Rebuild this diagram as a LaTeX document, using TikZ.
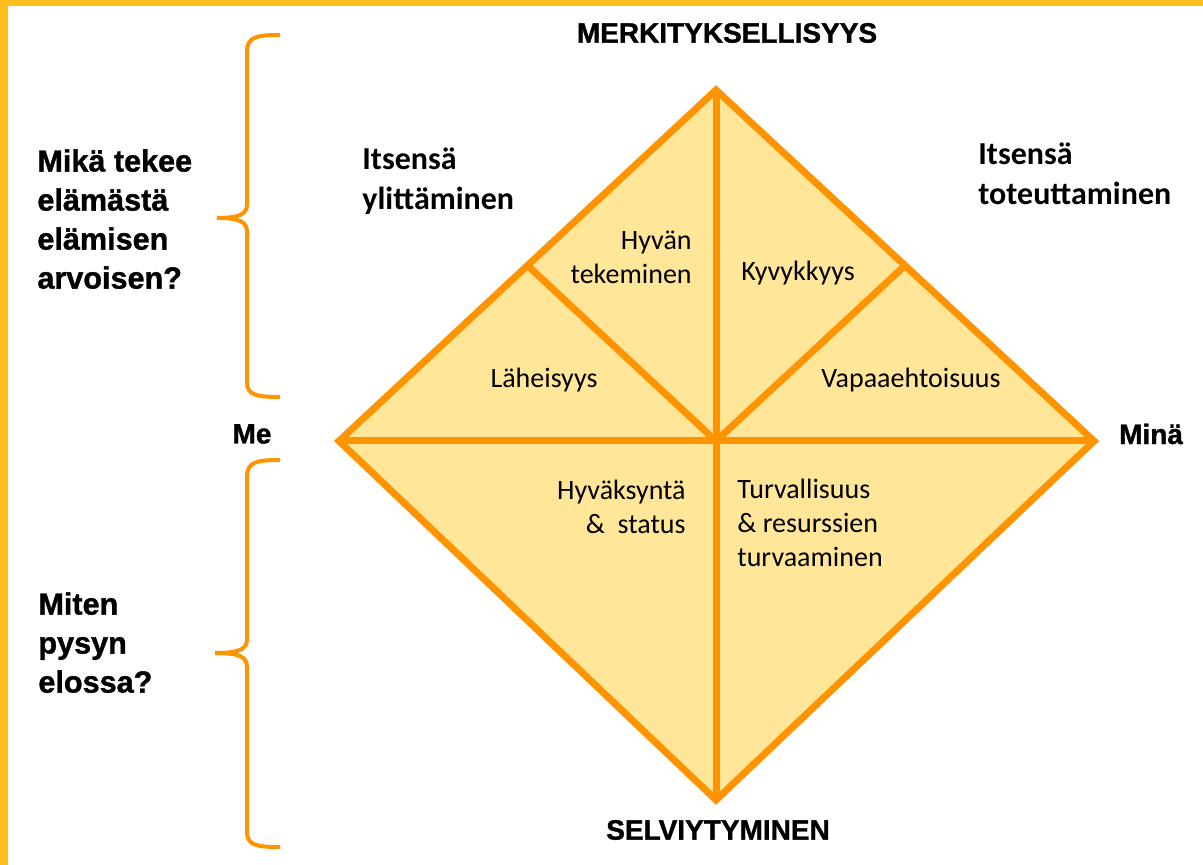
\documentclass[tikz,border=0pt]{standalone}
\usepackage{fontspec}
\setmainfont{Carlito}
\newfontfamily\headfont[BoldFeatures={FakeBold=1.2}]{Liberation Sans}
\definecolor{goldframe}{HTML}{FDBE1E}
\definecolor{diaorange}{HTML}{FF9400}
\definecolor{diafill}{HTML}{FFE699}
\tikzset{
  part/.style={draw=diaorange,line width=3.5pt,line join=miter},
  brace/.style={draw=diaorange,line width=2pt},
  head/.style={font=\headfont\bfseries\fontsize{14}{17}\selectfont,inner sep=0pt},
  ask/.style={font=\headfont\bfseries\fontsize{15.3}{19.5}\selectfont,align=left,anchor=north west,inner sep=0pt},
  corner/.style={font=\bfseries\fontsize{16}{20}\selectfont,align=left,anchor=north west,inner sep=0pt},
  inlabel/.style={font=\fontsize{14}{17}\selectfont,inner sep=0pt},
}
\begin{document}
\begin{tikzpicture}[x=0.5pt,y=-0.5pt]
\useasboundingbox (0,0) rectangle (1203,865);
\fill[white] (0,0) rectangle (1203,865);
\fill[goldframe] (0,0) rectangle (1203,6);
\fill[goldframe] (0,0) rectangle (8,865);

\coordinate (top) at (716,90);
\coordinate (left) at (339,441);
\coordinate (right) at (1094,441);
\coordinate (bottom) at (716,800);
\coordinate (mid) at (716,441);
\coordinate (ulmid) at (527.5,265.5);
\coordinate (urmid) at (905,265.5);

\filldraw[part,fill=diafill] (top) -- (right) -- (bottom) -- (left) -- cycle;
\draw[part] (left) -- (right);
\draw[part] (top) -- (bottom);
\draw[part] (mid) -- (ulmid);
\draw[part] (mid) -- (urmid);

\draw[brace] (280,35) .. controls (256,35) and (247,37) .. (247,52) -- (247,204)
  .. controls (247,214) and (240,218) .. (217,218)
  .. controls (240,218) and (247,222) .. (247,232) -- (247,382)
  .. controls (247,395) and (256,397) .. (280,397);
\draw[brace] (280,460) .. controls (256,460) and (247,462) .. (247,477) -- (247,639)
  .. controls (247,649) and (240,653) .. (215,653)
  .. controls (240,653) and (247,657) .. (247,667) -- (247,832)
  .. controls (247,845) and (256,847) .. (280,847);

\node[head] (meaning) at (727,33) {MERKITYKSELLISYYS};
\node[head] (survival) at (718,830) {SELVIYTYMINEN};
\node[head] (we) at (252,434) {Me};
\node[head] (me) at (1151,434) {Minä};

\node[ask] (worth) at (37,149) {Mikä tekee\\elämästä\\elämisen\\arvoisen?};
\node[ask] (alive) at (38,592) {Miten\\pysyn\\elossa?};

\node[corner] (transc) at (362,147) {Itsensä\\ylittäminen};
\node[corner] (actual) at (978,142) {Itsensä\\toteuttaminen};

\node[inlabel,align=right,anchor=north east] (good) at (692,231) {Hyvän\\tekeminen};
\node[inlabel] (able) at (798,273) {Kyvykkyys};
\node[inlabel] (close) at (544,380) {Läheisyys};
\node[inlabel] (free) at (911,380) {Vapaaehtoisuus};
\node[inlabel,align=right,anchor=north east] (accept) at (686,480) {Hyväksyntä\\\&\ \ status};
\node[inlabel,align=left,anchor=north west] (safe) at (737,479) {Turvallisuus\\\& resurssien\\turvaaminen};
\end{tikzpicture}
\end{document}
